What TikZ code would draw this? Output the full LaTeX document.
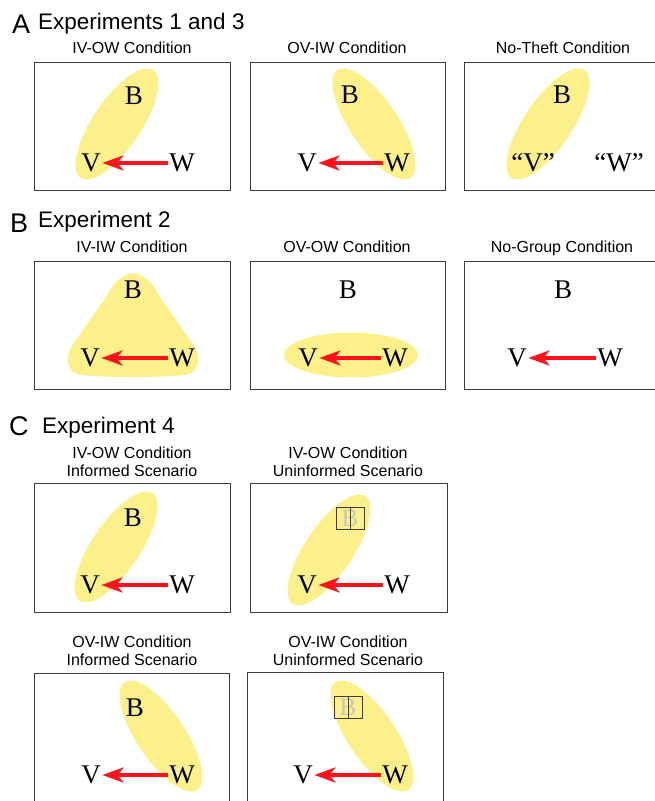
\documentclass[tikz,border=0pt]{standalone}
\usepackage{fontspec}
\setmainfont{Liberation Serif}
\setsansfont{Liberation Sans}
\usetikzlibrary{arrows.meta,shapes.geometric}
\definecolor{groupFill}{RGB}{251,240,138}
\definecolor{theftRed}{RGB}{255,18,28}
\definecolor{frameGray}{RGB}{60,60,60}
\tikzset{
    every node/.append style={align=center},
    panel/.style={draw=frameGray,line width=0.9pt},
    grp/.style={ellipse,fill=groupFill,inner sep=0pt,minimum width=130pt,minimum height=48pt},
    agent/.style={font=\fontsize{27}{27}\selectfont,inner sep=1.5pt},
    hidden/.style={draw=frameGray,line width=0.8pt,minimum width=28pt,minimum height=22pt,
        inner sep=0pt,text=black!22,font=\fontsize{25}{25}\selectfont},
    theft/.style={-{Stealth[length=21pt,width=15pt,inset=6pt]},line width=4.5pt,draw=theftRed},
    cond/.style={font=\sffamily\fontsize{16}{16}\selectfont,anchor=base,inner sep=0pt},
    exptitle/.style={font=\sffamily\fontsize{22.5}{22.5}\selectfont,anchor=base west,inner sep=0pt},
    tag/.style={font=\sffamily\fontsize{27}{27}\selectfont,anchor=base west,inner sep=0pt}
}
\begin{document}
\begin{tikzpicture}[x=1pt,y=-1pt]
    \useasboundingbox (0,0) rectangle (655,801);
    \clip (0,0) rectangle (655,801);

    % A: Experiments 1 and 3
    \node[tag] (tagA) at (12,33) {A};
    \node[exptitle] (expA) at (38,29) {Experiments 1 and 3};
    \node[cond] (condA1) at (132,53) {IV-OW Condition};
    \node[cond] (condA2) at (347,53) {OV-IW Condition};
    \node[cond] (condA3) at (563,53) {No-Theft Condition};
    \draw[panel] (34,62) rectangle (230,190);
    \draw[panel] (250,62) rectangle (445,190);
    \draw[panel] (464,62) rectangle (670,190);

    \node[grp,rotate=56] (gA1) at (117,124) {};
    \node[agent] (bA1) at (134,96) {B};
    \node[agent] (vA1) at (91,163) {V};
    \node[agent] (wA1) at (182,163) {W};
    \draw[theft] (wA1) -- (vA1);

    \node[grp,rotate=124] (gA2) at (374,124) {};
    \node[agent] (bA2) at (350,95) {B};
    \node[agent] (vA2) at (307,163) {V};
    \node[agent] (wA2) at (397,163) {W};
    \draw[theft] (wA2) -- (vA2);

    \node[grp,rotate=56] (gA3) at (548,124) {};
    \node[agent] (bA3) at (562,95) {B};
    \node[agent] (vA3) at (533,163) {``V''};
    \node[agent] (wA3) at (619,163) {``W''};

    % B: Experiment 2
    \node[tag] (tagB) at (10,232) {B};
    \node[exptitle] (expB) at (38,227) {Experiment 2};
    \node[cond] (condB1) at (132,252) {IV-IW Condition};
    \node[cond] (condB2) at (347,252) {OV-OW Condition};
    \node[cond] (condB3) at (562,252) {No-Group Condition};
    \draw[panel] (34,261) rectangle (230,389);
    \draw[panel] (250,261) rectangle (445,389);
    \draw[panel] (464,261) rectangle (670,389);

    \fill[groupFill] plot[smooth cycle,tension=0.6] coordinates {(133,273) (150,282) (162,300)
        (185,333) (197,352) (196,368) (183,375) (133,377) (83,375) (70,368) (69,352)
        (81,333) (104,300) (116,282)};
    \node[agent] (bB1) at (133,290) {B};
    \node[agent] (vB1) at (90,358) {V};
    \node[agent] (wB1) at (182,358) {W};
    \draw[theft] (wB1) -- (vB1);

    \node[grp,minimum width=134pt,minimum height=45pt] (gB2) at (351,355) {};
    \node[agent] (bB2) at (348,290) {B};
    \node[agent] (vB2) at (308,358) {V};
    \node[agent] (wB2) at (395,358) {W};
    \draw[theft] (wB2) -- (vB2);

    \node[agent] (bB3) at (563,290) {B};
    \node[agent] (vB3) at (517,358) {V};
    \node[agent] (wB3) at (610,358) {W};
    \draw[theft] (wB3) -- (vB3);

    % C: Experiment 4
    \node[tag] (tagC) at (9,435) {C};
    \node[exptitle] (expC) at (42,433) {Experiment 4};
    \node[cond] (condC1a) at (132,458) {IV-OW Condition};
    \node[cond] (condC1b) at (132,476) {Informed Scenario};
    \node[cond] (condC2a) at (348,458) {IV-OW Condition};
    \node[cond] (condC2b) at (348,476) {Uninformed Scenario};
    \draw[panel] (34,483) rectangle (230,612);
    \draw[panel] (250,483) rectangle (447,612);

    \node[grp,rotate=56] (gC1) at (116,547) {};
    \node[agent] (bC1) at (133,518) {B};
    \node[agent] (vC1) at (90,585) {V};
    \node[agent] (wC1) at (182,585) {W};
    \draw[theft] (wC1) -- (vC1);

    \node[grp,rotate=56] (gC2) at (329,550) {};
    \node[hidden] (bC2) at (350,518) {B};
    \draw[black!75,line width=1pt] (bC2.north) -- (bC2.south);
    \node[agent] (vC2) at (307,585) {V};
    \node[agent] (wC2) at (397,585) {W};
    \draw[theft] (wC2) -- (vC2);

    \node[cond] (condD1a) at (132,647) {OV-IW Condition};
    \node[cond] (condD1b) at (132,665) {Informed Scenario};
    \node[cond] (condD2a) at (348,647) {OV-IW Condition};
    \node[cond] (condD2b) at (348,665) {Uninformed Scenario};
    \draw[panel] (34,673) rectangle (229,820);
    \draw[panel] (247,672) rectangle (443,820);

    \node[grp,rotate=124] (gD1) at (161,736) {};
    \node[agent] (bD1) at (135,708) {B};
    \node[agent] (vD1) at (91,775) {V};
    \node[agent] (wD1) at (182,775) {W};
    \draw[theft] (wD1) -- (vD1);

    \node[grp,rotate=124] (gD2) at (372,736) {};
    \node[hidden] (bD2) at (348,707) {B};
    \draw[black!75,line width=1pt] (bD2.north) -- (bD2.south);
    \node[agent] (vD2) at (303,775) {V};
    \node[agent] (wD2) at (395,775) {W};
    \draw[theft] (wD2) -- (vD2);
\end{tikzpicture}
\end{document}
